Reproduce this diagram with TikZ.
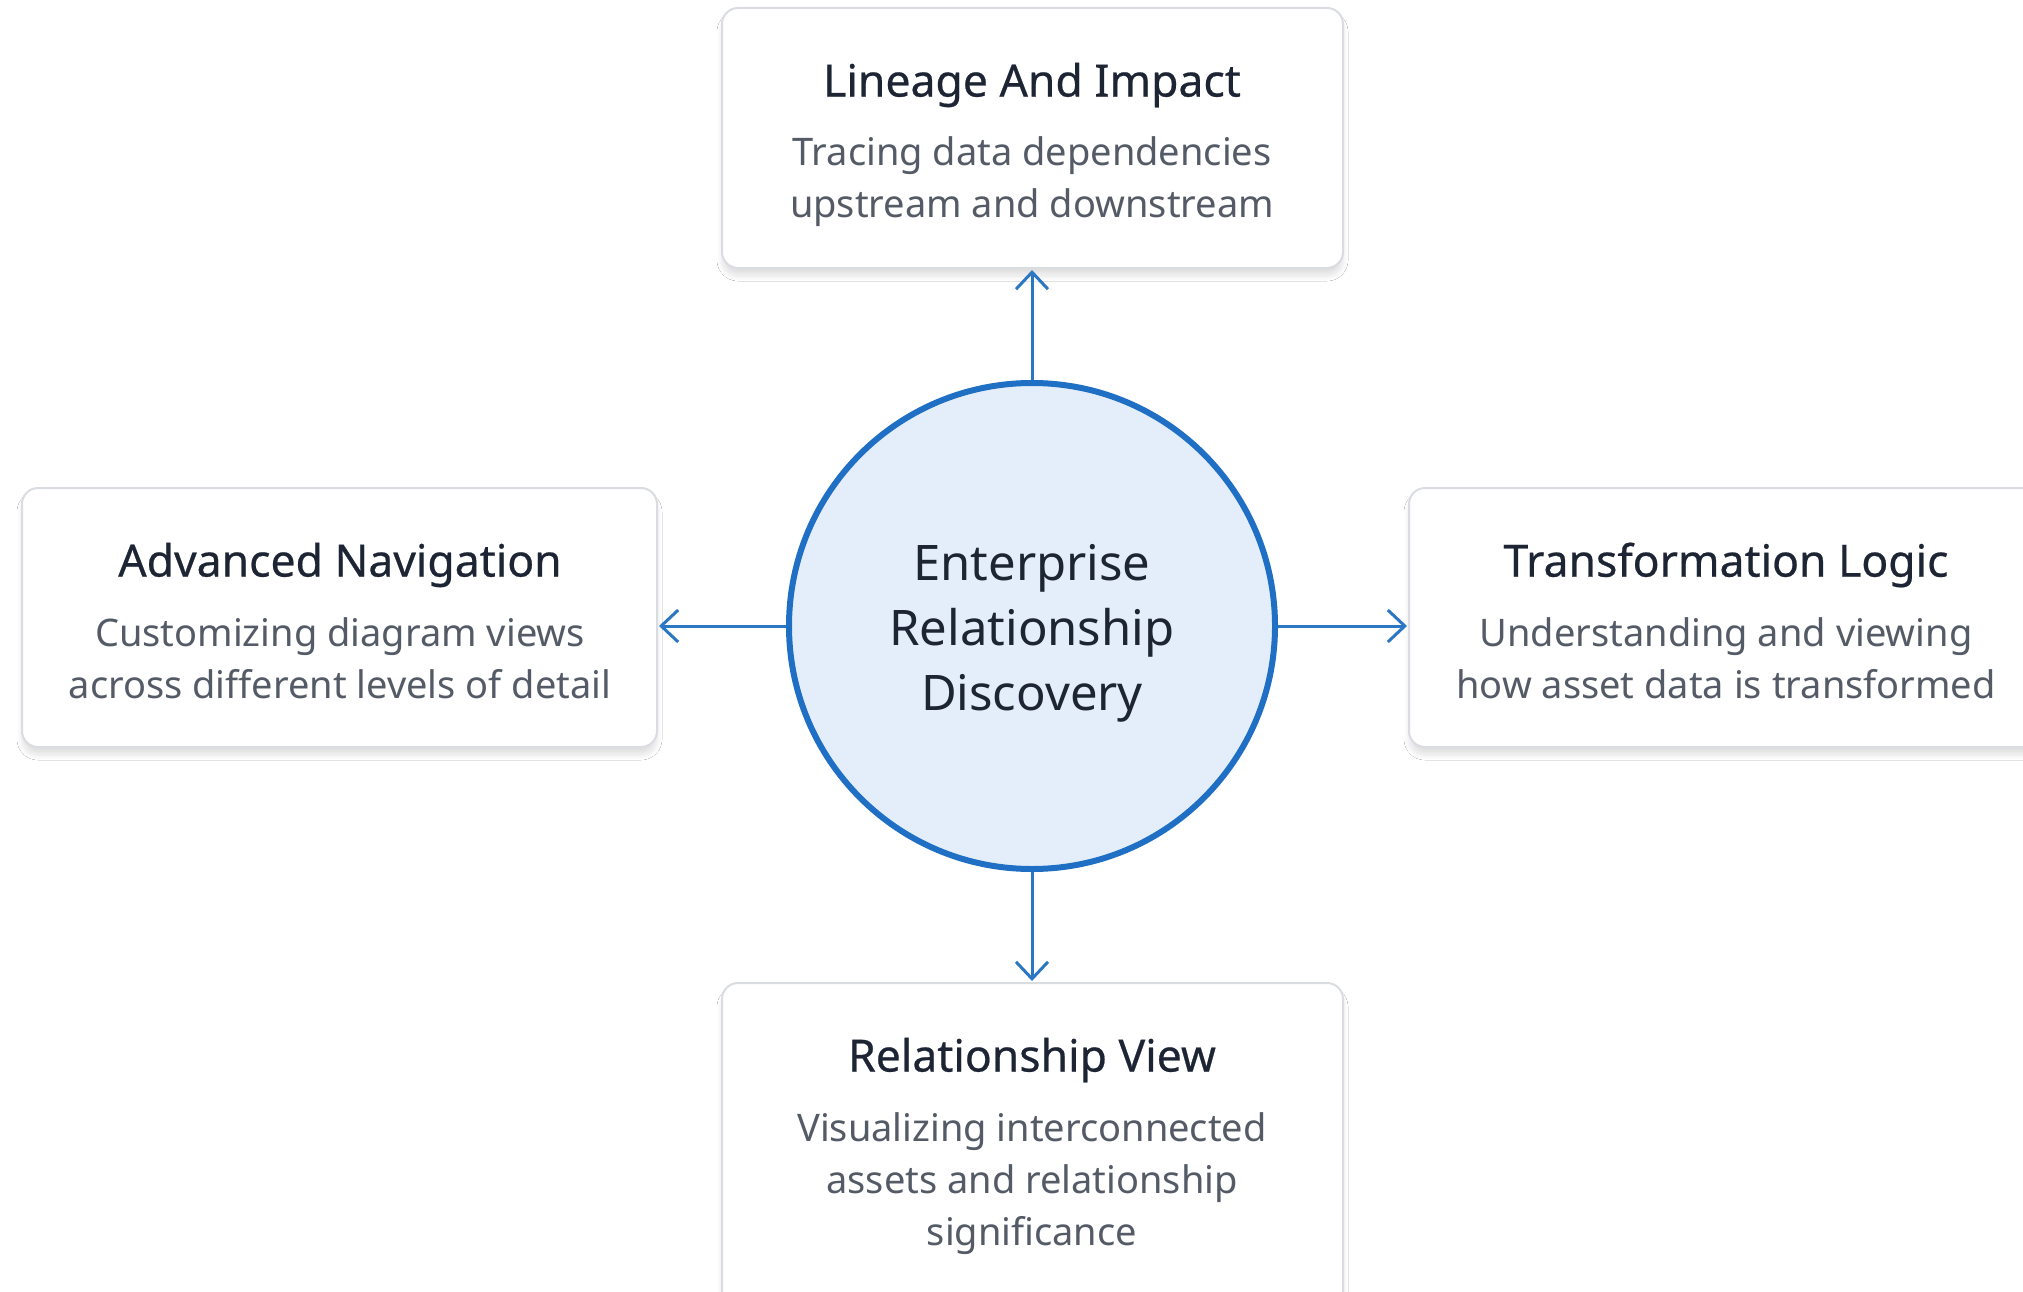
\documentclass[tikz,border=0pt]{standalone}
\usepackage{fontspec}
\setmainfont{Noto Sans}
\newfontfamily\medfont{Noto Sans}[FakeBold=0.5]
\usetikzlibrary{arrows.meta,shadows.blur}
\definecolor{cblue}{HTML}{1F6FC5}
\definecolor{afill}{HTML}{2B77C4}
\definecolor{cfill}{HTML}{E4EEFB}
\definecolor{bdraw}{HTML}{D9DCE1}
\definecolor{ttl}{HTML}{1D2433}
\definecolor{dsc}{HTML}{545B66}
\tikzset{
  card/.style={draw=bdraw, line width=2pt, fill=white, rounded corners=16pt,
    blur shadow={shadow xshift=0pt, shadow yshift=-8pt, shadow blur steps=14, shadow opacity=12, shadow blur radius=5pt}},
  ttlstyle/.style={text=ttl, font=\medfont\fontsize{44.5}{52}\selectfont, inner sep=0pt},
  dscstyle/.style={text=dsc, font=\fontsize{38}{52}\selectfont, align=center, inner sep=0pt},
  hub/.style={circle, draw=cblue, line width=6pt, fill=cfill, minimum size=486pt, inner sep=0pt},
  hubtext/.style={text=ttl, font=\fontsize{49}{65}\selectfont, align=center, inner sep=0pt},
  link/.style={draw=afill, line width=3pt, -{Straight Barb[length=17pt,width=32pt,line width=3pt]}}
}
\begin{document}
\begin{tikzpicture}[x=1pt,y=-1pt]
\useasboundingbox (0,0) rectangle (2023,1292);
\clip (0,0) rectangle (2023,1292);
\fill[white] (0,0) rectangle (2023,1292);
% cards
\draw[card] (722,8) rectangle (1343,268);
\coordinate (topb) at (1032,270);
\draw[card] (22,488) rectangle (657,747);
\coordinate (leftb) at (659,626);
\draw[card] (1409,488) rectangle (2044,747);
\coordinate (rightb) at (1407,626);
\draw[card] (722,983) rectangle (1343,1320);
\coordinate (botb) at (1032,981);
% hub
\node[hub] (hub) at (1032,626) {};
\node[hubtext] (hubt) at (1032,633) {Enterprise\\Relationship\\Discovery};
% texts
\node[ttlstyle] (t1) at (1032,85) {Lineage And Impact};
\node[dscstyle] (d1) at (1032,182) {Tracing data dependencies\\upstream and downstream};
\node[ttlstyle] (t2) at (340,565) {Advanced Navigation};
\node[dscstyle] (d2) at (340,658) {Customizing diagram views\\across different levels of detail};
\node[ttlstyle] (t3) at (1726,565) {Transformation Logic};
\node[dscstyle] (d3) at (1726,658) {Understanding and viewing\\how asset data is transformed};
\node[ttlstyle] (t4) at (1032,1060) {Relationship View};
\node[dscstyle] (d4) at (1032,1184) {Visualizing interconnected\\assets and relationship\\significance};
% links
\draw[link] (hub.north) -- (topb);
\draw[link] (hub.west) -- (leftb);
\draw[link] (hub.east) -- (rightb);
\draw[link] (hub.south) -- (botb);
\end{tikzpicture}
\end{document}
